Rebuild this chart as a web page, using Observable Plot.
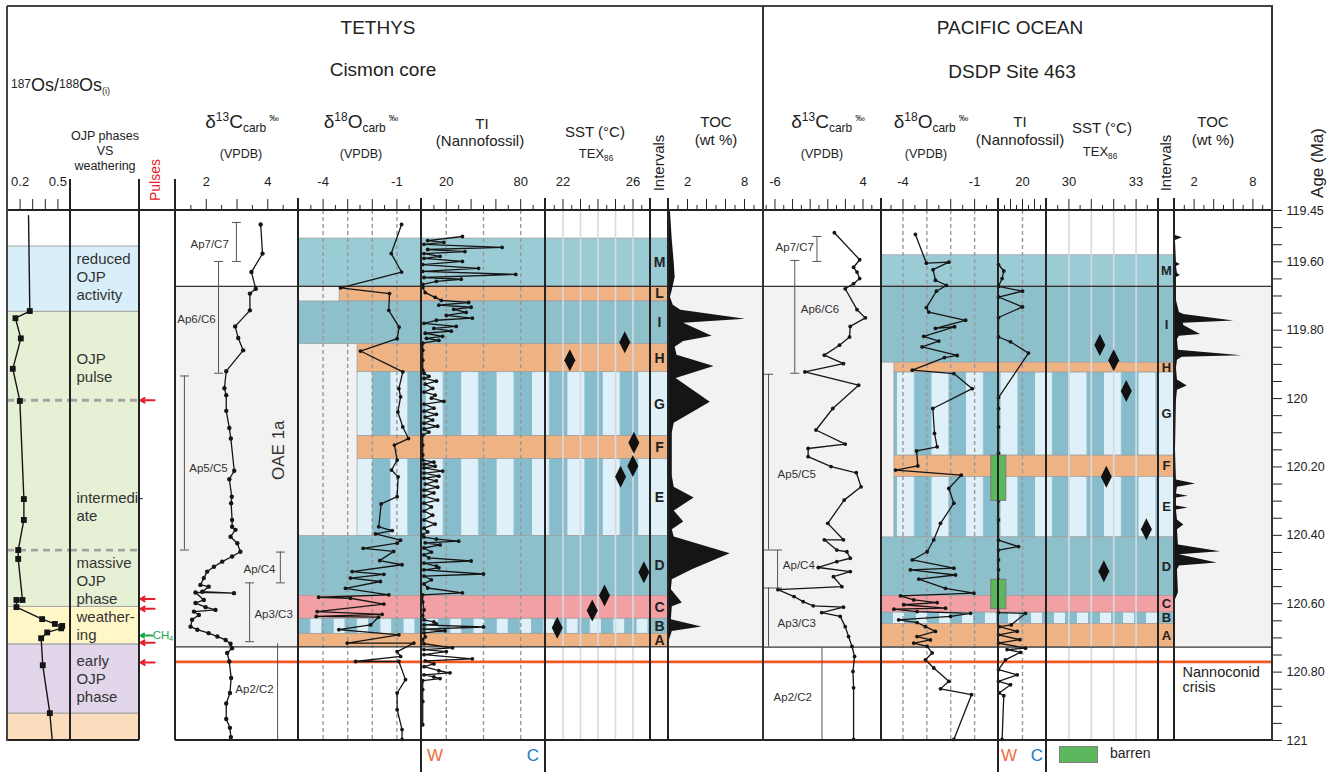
<!DOCTYPE html>
<html><head><meta charset="utf-8">
<script src="https://cdn.jsdelivr.net/npm/d3@7"></script>
<script src="https://cdn.jsdelivr.net/npm/@observablehq/plot@0.6"></script>
<style>
body{margin:0;background:#fff;}
#fig{position:relative;width:1336px;height:774px;font-family:"Liberation Sans",Arial,sans-serif;color:#222;overflow:hidden;background:#fff;}
.lbl{position:absolute;white-space:nowrap;line-height:1.1;}
.ln{position:absolute;background:#222;}
.sup{font-size:0.63em;vertical-align:0.55em;}
.sub{font-size:0.63em;vertical-align:-0.35em;}
.pm{font-size:0.5em;vertical-align:0.7em;margin-left:3px;}
</style></head><body><div id="fig"></div>
<script>
// ---------------- DATA ----------------
const ageDomain = [119.45, 121];
const ageTickLabelValues = [119.45, 119.6, 119.8, 120, 120.2, 120.4, 120.6, 120.8, 121];
const ageTickLabels = ["119.45","119.60","119.80","120","120.20","120.40","120.60","120.80","121"];

// Os isotopes
const osAge = [119.465,119.744,119.765,119.824,119.913,120.007,120.294,120.355,120.443,120.469,120.589,120.589,120.610,120.645,120.659,120.665,120.672,120.684,120.701,120.780,120.920,121.000];
const osValue = [0.267,0.277,0.163,0.206,0.142,0.198,0.230,0.230,0.185,0.185,0.219,0.171,0.171,0.375,0.476,0.534,0.526,0.415,0.367,0.380,0.436,0.455];

// OJP phases
const phaseTop = [119.554, 119.745, 120.608, 120.718, 120.920];
const phaseBottom = [119.745, 120.608, 120.718, 120.920, 121.0];
const phaseKind = ["reduced", "green", "weathering", "early", "late"];
const phaseLabel = ["reduced\nOJP\nactivity", "OJP\npulse", "intermedi-\nate", "massive\nOJP\nphase", "weather-\ning", "early\nOJP\nphase"];
const phaseLabelAge = [119.643, 119.908, 120.314, 120.530, 120.662, 120.817];
const phaseDividerAge = [120.005, 120.443];
const pulseAge = [120.005, 120.586, 120.615, 120.714, 120.772];
const ch4Age = [120.693];

// Intervals
const tethysOAE = [119.672, 120.726];
const pacificOAE = [119.672, 120.727];
const crisisAge = 120.770;
const tethysInterval = ["M","L","I","H","G","F","E","D","C","B","A"];
const tethysTop = [119.532,119.672,119.716,119.841,119.923,120.110,120.177,120.402,120.577,120.644,120.688];
const tethysBottom = [119.672,119.716,119.841,119.923,120.110,120.177,120.402,120.577,120.644,120.688,120.726];
const tethysKind = ["tealLight","orange","teal","orange","stripe","orange","stripe","teal","pink","stripeB","orange"];
const tethysStartO = [-5,-3.33,-5,-2.6,-2.6,-2.6,-2.6,-5,-5,-5,-5];
const pacificInterval = ["M","I","H","G","F","E","D","C","B","A"];
const pacificTop = [119.581,119.672,119.895,119.924,120.167,120.229,120.406,120.577,120.626,120.659];
const pacificBottom = [119.672,119.895,119.924,120.167,120.229,120.406,120.577,120.626,120.659,120.727];
const pacificKind = ["tealLight","teal","orange","stripe","orange","stripe","teal","pink","stripeB","orange"];
const pacificStartO = [-4.9,-4.9,-4.36,-4.36,-4.36,-4.36,-4.9,-4.9,-4.9,-4.9];

// Biozones
const zoneName = ["Ap7/C7","Ap6/C6","Ap5/C5","Ap/C4","Ap3/C3","Ap2/C2"];
const tZoneTop = [119.485,119.599,119.934,120.449,120.539,120.717];
const tZoneBottom = [119.599,119.926,120.443,120.539,120.711,121];
const tZoneX = [2.98,2.40,1.29,4.41,3.41,4.32];
const tZoneCapTop = [true,true,true,true,true,false];
const tZoneCapBottom = [true,true,true,true,true,false];
const tZoneLabelX = [2.11,1.68,2.07,3.73,4.19,3.57];
const tZoneLabelAge = [119.549,119.768,120.203,120.498,120.630,120.849];
const pZoneTop = [119.526,119.596,119.929,120.443,120.554,120.727];
const pZoneBottom = [119.599,119.926,120.443,120.554,120.727,121];
const pZoneX = [-1.23,-3.75,-6.73,-5.70,-6.73,-0.66];
const pZoneCapTop = [true,true,true,true,true,false];
const pZoneCapBottom = [true,true,true,true,false,false];
const pZoneLabelX = [-3.75,-0.89,-3.52,-3.29,-3.52,-3.98];
const pZoneLabelAge = [119.558,119.739,120.221,120.487,120.656,120.875];

// Tethys (Cismon) series
const tC13Age = [119.491,119.576,119.630,119.679,119.693,119.742,119.789,119.823,119.859,119.920,119.970,119.990,120.036,120.086,120.117,120.211,120.236,120.287,120.306,120.355,120.375,120.384,120.404,120.423,120.448,120.462,120.477,120.492,120.506,120.525,120.545,120.550,120.565,120.569,120.567,120.589,120.598,120.610,120.618,120.623,120.633,120.647,120.667,120.676,120.686,120.696,120.706,120.717,120.730,120.744,120.769,120.817,120.861,120.892,120.937,120.963,120.990];
const tC13Value = [3.77,3.83,3.47,3.61,3.42,3.42,2.94,3.04,3.20,2.65,2.59,2.65,2.65,2.75,2.80,2.91,2.75,2.83,2.81,2.84,2.84,2.95,2.79,3.01,3.11,2.84,2.52,2.25,2.03,1.92,1.81,2.08,1.87,2.90,1.65,1.92,1.65,1.98,2.30,1.60,1.76,1.54,1.49,1.71,2.08,2.36,2.63,2.79,2.84,2.68,2.75,2.81,2.77,2.65,2.65,2.77,2.80];
const tO18Age = [119.491,119.576,119.630,119.676,119.693,119.742,119.791,119.825,119.861,119.922,119.971,119.995,120.039,120.083,120.117,120.136,120.180,120.209,120.229,120.287,120.308,120.375,120.386,120.396,120.414,120.423,120.438,120.447,120.474,120.486,120.506,120.514,120.525,120.535,120.555,120.574,120.581,120.584,120.601,120.623,120.631,120.637,120.639,120.662,120.676,120.691,120.715,120.715,120.740,120.754,120.769,120.769,120.822,120.861,120.910,120.968,120.997];
const tO18Value = [-0.81,-1.23,-0.81,-3.29,-1.30,-1.33,-0.91,-0.99,-2.48,-0.76,-0.92,-0.85,-0.96,-0.76,-0.53,-1.10,-0.99,-1.22,-0.95,-0.99,-1.64,-1.74,-1.19,-1.87,-0.85,-0.99,-2.37,-1.13,-1.70,-0.79,-2.82,-1.53,-2.89,-1.67,-3.09,-1.33,-4.18,-2.89,-1.53,-4.24,-1.60,-4.28,-1.74,-2.07,-3.36,-0.92,-3.02,-0.31,-0.99,-0.85,-2.68,-0.92,-0.65,-0.99,-0.99,-0.79,-0.79];
const tTIAge = [119.526,119.538,119.543,119.549,119.558,119.564,119.570,119.576,119.584,119.590,119.599,119.608,119.619,119.628,119.637,119.646,119.651,119.657,119.666,119.675,119.690,119.704,119.713,119.719,119.727,119.733,119.739,119.748,119.757,119.765,119.771,119.780,119.789,119.795,119.803,119.809,119.818,119.824,119.830,119.838,119.859,119.888,119.917,119.926,119.935,119.941,119.949,119.958,119.970,119.981,119.990,119.999,120.008,120.016,120.028,120.037,120.046,120.054,120.063,120.072,120.081,120.089,120.098,120.107,120.136,120.165,120.180,120.186,120.192,120.198,120.203,120.212,120.218,120.227,120.233,120.241,120.250,120.259,120.268,120.276,120.285,120.297,120.306,120.317,120.329,120.341,120.355,120.367,120.379,120.390,120.399,120.405,120.411,120.417,120.422,120.428,120.437,120.449,120.457,120.466,120.475,120.481,120.490,120.495,120.501,120.513,120.519,120.530,120.542,120.554,120.568,120.574,120.595,120.618,120.635,120.647,120.653,120.659,120.662,120.668,120.674,120.679,120.685,120.697,120.705,120.717,120.729,120.734,120.740,120.749,120.761,120.767,120.776,120.784,120.796,120.802,120.808,120.814,120.819,120.825,120.851,120.886,120.954];
const tTIValue = [33,5,18,2,65,5,35,2,15,2,33,1,46,1,76,2,32,12,1,1,3,11,16,38,14,40,26,36,20,41,12,2,28,10,24,3,17,4,14,1,1,1,1,2,6,2,12,3,9,2,11,8,18,2,10,2,12,3,9,2,13,2,6,1,1,1,1,10,2,11,2,17,2,14,2,12,3,13,2,10,2,13,2,8,2,9,2,11,2,5,1,2,12,30,3,15,2,8,2,6,40,2,12,14,2,50,2,8,2,5,33,1,1,2,1,2,10,12,2,50,2,19,2,3,1,2,25,2,20,2,41,3,10,2,14,23,2,10,15,1,1,1,1];
const tSSTAge = [119.835,119.888,120.129,120.197,120.229,120.508,120.576,120.620,120.670];
const tSSTValue = [25.53,22.39,26.05,25.99,25.29,26.62,24.37,23.67,21.67];
const tTOCAge = [119.450,119.538,119.602,119.646,119.684,119.704,119.727,119.742,119.768,119.780,119.818,119.833,119.850,119.873,119.906,119.941,120.011,120.072,120.101,120.227,120.259,120.291,120.329,120.361,120.384,120.405,120.454,120.501,120.530,120.559,120.598,120.609,120.647,120.668,120.681,120.707,121.000];
const tTOCValue = [0.2,0.4,0.6,0.7,0.4,0.2,0.5,1.3,8.1,1.6,4.6,1.6,0.7,0.9,4.8,0.8,4.4,0.6,0.4,0.4,0.6,2.7,0.6,1.6,0.4,0.6,6.5,2.5,0.4,0.3,1.45,0.4,0.3,3.5,0.4,0.1,0.1];

// Pacific (DSDP 463) series
const pC13Age = [119.515,119.594,119.616,119.630,119.649,119.664,119.679,119.740,119.764,119.789,119.820,119.844,119.873,119.898,119.922,119.961,120.029,120.092,120.133,120.146,120.170,120.199,120.217,120.258,120.297,120.365,120.413,120.413,120.443,120.448,120.467,120.477,120.494,120.506,120.521,120.550,120.559,120.579,120.594,120.606,120.610,120.626,120.637,120.667,120.696,120.725,120.754,120.798,120.846,120.997];
const pC13Value = [0.75,3.62,2.93,3.32,3.62,2.93,1.98,3.32,4.27,2.55,2.47,1.33,-0.39,1.78,-2.60,3.50,0.57,-1.34,1.98,-2.23,-2.23,0.37,3.24,3.78,1.86,0.00,1.78,-0.39,1.03,2.17,2.55,1.03,-1.08,2.55,0.64,1.60,-5.66,-3.83,-2.80,-1.65,1.78,-0.69,1.41,1.98,2.36,2.75,3.04,2.86,2.93,2.93];
const pO18Age = [119.520,119.604,119.601,119.623,119.654,119.669,119.686,119.734,119.747,119.771,119.795,119.790,119.818,119.832,119.849,119.874,119.880,119.917,119.927,119.971,120.029,120.102,120.141,120.153,120.197,120.209,120.224,120.263,120.306,120.365,120.413,120.448,120.472,120.496,120.501,120.516,120.528,120.555,120.569,120.577,120.589,120.597,120.603,120.613,120.616,120.623,120.628,120.637,120.647,120.655,120.667,120.681,120.696,120.706,120.715,120.725,120.744,120.764,120.788,120.827,120.849,120.866,120.997];
const pO18Value = [-3.48,-3.02,-2.08,-2.74,-2.64,-2.18,-2.60,-3.02,-2.92,-1.38,-2.64,-1.84,-3.13,-2.50,-3.20,-1.73,-2.26,-3.61,-1.87,-1.10,-2.75,-2.68,-2.57,-3.43,-3.38,-4.31,-1.56,-2.08,-1.87,-2.43,-2.71,-2.99,-3.61,-1.87,-3.69,-1.80,-3.34,-2.22,-1.03,-4.10,-3.55,-2.57,-3.97,-2.22,-4.38,-3.41,-1.17,-2.01,-4.18,-3.41,-3.06,-2.64,-3.41,-2.85,-3.55,-2.99,-2.78,-3.06,-2.71,-2.08,-2.43,-1.13,-1.87];
const pTIAge = [119.608,119.627,119.649,119.672,119.686,119.703,119.732,119.763,119.820,119.834,119.867,119.997,120.029,120.083,120.160,120.299,120.355,120.414,120.433,120.443,120.472,120.501,120.530,120.626,120.628,120.662,120.667,120.681,120.691,120.705,120.715,120.730,120.734,120.742,120.764,120.793,120.808,120.827,120.837,120.861,120.869,120.997];
const pTIValue = [0,4.4,3,0,20,0,20,0,0,10,25,0,0,0,0,0,0,0,16.7,0,0,0,0,0,22.5,10.6,0.6,15.6,0,17.8,0,22.5,7.2,18.3,5.8,0,15.6,0,10,0.6,4.4,3];
const barrenTop = [120.167, 120.530];
const barrenBottom = [120.299, 120.616];
const pSSTAge = [119.843,119.888,119.978,120.229,120.382,120.505];
const pSSTValue = [31.38,32.00,32.56,31.67,33.46,31.56];
const pTOCAge = [119.450,119.523,119.530,119.538,119.602,119.608,119.614,119.634,119.640,119.646,119.713,119.748,119.754,119.773,119.780,119.786,119.813,119.818,119.827,119.859,119.875,119.879,119.888,119.911,119.946,119.963,119.976,120.005,120.151,120.238,120.250,120.259,120.279,120.286,120.291,120.314,120.320,120.326,120.355,120.370,120.384,120.428,120.448,120.457,120.481,120.490,120.501,120.568,120.589,120.734,121.000];
const pTOCValue = [0,0.1,0.8,0.1,0.2,0.6,0.2,0.3,0.6,0.2,0.2,0.5,0.95,6.05,0.9,0.95,2.65,0.5,0.3,0.4,6.9,0.8,0.3,0.2,0.3,1.3,0.3,0.2,0.1,0.2,2.15,0.3,0.2,1.4,0.2,0.2,1.4,0.2,0.3,0.95,0.3,0.4,4.7,0.5,4.35,0.5,0.3,0.4,0.1,0.1,0.1];

// Annotations
const oaeLabel = {text: "OAE 1a", x: 4.35, age: 120.151};
const crisisLabel = {text: "Nannoconid\ncrisis", age: 120.823};

// Axis ticks (values & labels)
const osTicks = {major: [0.2,0.3,0.4,0.5], labels: ["0.2","","","0.5"], minor: []};
const tC13Ticks = {major: [1,2,3,4,5], labels: ["","2","","4",""], minor: [1.5,2.5,3.5,4.5]};
const tO18Ticks = {major: [-5,-4,-3,-2,-1,0], labels: ["","-4","","","-1",""], minor: [-4.5,-3.5,-2.5,-1.5,-0.5]};
const tTITicks = {major: [0,20,40,60,80,100], labels: ["","20","","","80",""], minor: [10,30,50,70,90]};
const tSSTTicks = {major: [21,22,23,24,25,26,27], labels: ["","22","","","","26",""], minor: [21.5,22.5,23.5,24.5,25.5,26.5]};
const tocTicks = {major: [0,2,4,6,8,10], labels: ["","2","","","8",""], minor: [1,3,5,7,9]};
const pC13Ticks = {major: [-6,-4,-2,0,2,4], labels: ["-6","","","","","4"], minor: [-7,-5,-3,-1,1,3,5]};
const pO18Ticks = {major: [-4,-3,-2,-1,0], labels: ["-4","","","-1",""], minor: [-4.5,-3.5,-2.5,-1.5,-0.5]};
const pTITicks = {major: [0,10,20,30,40], labels: ["","","20","",""], minor: [5,15,25,35]};
const pSSTTicks = {major: [29,30,31,32,33,34], labels: ["","30","","","33",""], minor: [29.5,30.5,31.5,32.5,33.5]};

// ---------------- STYLE / HELPERS ----------------
const fig = document.getElementById("fig");
const H = 774, MT = 210, MB = 34;
const FONT = '"Liberation Sans", Arial, sans-serif';
const COL = {teal:"#8ec0cc", tealLight:"#9bcbd5", orange:"#efb283", pink:"#f2a0a3", sLight:"#dff0f8", sDark:"#86bccb",
  gray:"#f2f2f2", crisis:"#f15a24", reduced:"#d8eef9", green:"#e6f0d5", weathering:"#fff7c8", early:"#e2d6ea", late:"#fbdcbc"};
const zip = (a, v) => a.map((d, i) => ({age: d, value: v[i]}));
const defs = d3.select(fig).append("svg").attr("width",0).attr("height",0).style("position","absolute").append("defs");
const made = new Set();
function stripeFill(kind, x0, site) {
  const id = `${kind}-${site}-${x0}`;
  if (!made.has(id)) {
    made.add(id);
    const cfg = kind === "stripe"
      ? (site === "t" ? {o:355, p:35.4, w:17, c1:COL.sLight, c2:COL.sDark} : {o:897, p:34.5, w:17, c1:COL.sLight, c2:COL.sDark})
      : (site === "t" ? {o:298, p:23.3, w:12.5, c1:COL.sDark, c2:COL.sLight} : {o:881, p:23, w:12, c1:COL.sDark, c2:COL.sLight});
    const pat = defs.append("pattern").attr("id", id).attr("patternUnits","userSpaceOnUse")
      .attr("x", cfg.o - x0).attr("y", 0).attr("width", cfg.p).attr("height", 20);
    pat.append("rect").attr("width", cfg.w).attr("height", 20).attr("fill", cfg.c1);
    pat.append("rect").attr("x", cfg.w).attr("width", cfg.p - cfg.w).attr("height", 20).attr("fill", cfg.c2);
  }
  return `url(#${id})`;
}
function kindFill(kind, x0, site, cell) {
  if (kind === "stripe") return cell ? COL.sLight : stripeFill(kind, x0, site);
  if (kind === "stripeB") return cell ? COL.teal : stripeFill(kind, x0, site);
  return COL[kind];
}
function axisMarks(t) {
  const m = new Map(t.major.map((d, i) => [d, t.labels[i]]));
  const out = [Plot.axisX(t.major, {anchor:"top", tickSize:12, tickPadding:13, tickFormat: d => m.get(d) ?? "", label:null, fontSize:13})];
  if (t.minor.length) out.push(Plot.axisX(t.minor, {anchor:"top", tickSize:6, tickFormat: () => "", label:null}));
  return out;
}
function panel(x0, x1, domain, marks, ticks) {
  const opts = {width: x1 - x0, height: H, marginTop: MT, marginBottom: MB, marginLeft: 0, marginRight: 0,
    x: {domain}, y: {domain: ageDomain, reverse: true, axis: null}, color: {type: "identity"},
    style: {background: "none", overflow: "visible", fontFamily: FONT, fontSize: "13px", color: "#222"},
    marks: ticks ? [...marks, ...axisMarks(ticks)] : marks};
  if (!ticks) opts.x.axis = null;
  const svg = Plot.plot(opts);
  svg.style.position = "absolute"; svg.style.left = x0 + "px"; svg.style.top = "0px";
  fig.appendChild(svg);
}
const grayBg = (oae, dom) => Plot.rect([0], {x1: dom[0], x2: dom[1], y1: oae[0], y2: oae[1], fill: COL.gray});
const hRules = (oae) => [Plot.ruleY(oae, {stroke: "#333", strokeWidth: 1.2}), Plot.ruleY([crisisAge], {stroke: COL.crisis, strokeWidth: 2.6})];
const diamond = {draw(c){c.moveTo(0,-11);c.lineTo(5.5,0);c.lineTo(0,11);c.lineTo(-5.5,0);c.closePath();}};
const hcap = {draw(c){c.moveTo(-4.5,0);c.lineTo(4.5,0);}};
const curve = (rows, r = 1.9) => [Plot.line(rows, {x:"value", y:"age", stroke:"#151515", strokeWidth:1.3}), Plot.dot(rows, {x:"value", y:"age", r, fill:"#151515"})];

const tRows = tethysInterval.map((n, i) => ({name:n, top:tethysTop[i], bottom:tethysBottom[i], kind:tethysKind[i], startO:tethysStartO[i]}));
const pRows = pacificInterval.map((n, i) => ({name:n, top:pacificTop[i], bottom:pacificBottom[i], kind:pacificKind[i], startO:pacificStartO[i]}));
const bands = (rows, x0, site, x1v, x2v, opt = {}) => Plot.rect(rows, {x1: opt.start ? "startO" : x1v, x2: x2v, y1:"top", y2:"bottom",
  fill: d => kindFill(d.kind, x0, site, opt.cell), stroke:"#9d9d9d", strokeWidth:0.7});
const zonesT = zoneName.map((n, i) => ({name:n, top:tZoneTop[i], bottom:tZoneBottom[i], x:tZoneX[i], capTop:tZoneCapTop[i], capBottom:tZoneCapBottom[i], labelX:tZoneLabelX[i], labelAge:tZoneLabelAge[i]}));
const zonesP = zoneName.map((n, i) => ({name:n, top:pZoneTop[i], bottom:pZoneBottom[i], x:pZoneX[i], capTop:pZoneCapTop[i], capBottom:pZoneCapBottom[i], labelX:pZoneLabelX[i], labelAge:pZoneLabelAge[i]}));
const zoneMarks = (z) => [
  Plot.ruleX(z, {x:"x", y1:"top", y2:"bottom", stroke:"#555", strokeWidth:1}),
  Plot.dot(z.filter(d => d.capTop), {x:"x", y:"top", symbol:hcap, stroke:"#555", fill:"none", strokeWidth:1}),
  Plot.dot(z.filter(d => d.capBottom), {x:"x", y:"bottom", symbol:hcap, stroke:"#555", fill:"none", strokeWidth:1}),
  Plot.text(z, {x:"labelX", y:"labelAge", text:"name", fontSize:11.5, fill:"#333"})
];

// ---------------- LEFT: Os + phases ----------------
const phaseRows = phaseTop.map((t, i) => ({top:t, bottom:phaseBottom[i], kind:phaseKind[i]}));
const phaseBg = (dom) => [
  Plot.rect(phaseRows, {x1: dom[0], x2: dom[1], y1:"top", y2:"bottom", fill: d => COL[d.kind]}),
  Plot.ruleY(phaseTop.concat(phaseBottom.slice(0, -1)), {stroke:"#a8a8a8", strokeWidth:1}),
  Plot.ruleY(phaseDividerAge, {stroke:"#a3a3a3", strokeWidth:2.8, strokeDasharray:"7,5"})
];
const osRows = zip(osAge, osValue);
panel(7, 70, [0.1, 0.6], [
  ...phaseBg([0.1, 0.6]),
  Plot.line(osRows, {x:"value", y:"age", stroke:"#151515", strokeWidth:1.4}),
  Plot.dot(osRows.slice(1, -1), {x:"value", y:"age", symbol:"square", r:3.3, fill:"#151515"})
], osTicks);
panel(70, 139, [0, 1], [
  ...phaseBg([0, 1]),
  Plot.text(phaseLabel.map((t, i) => ({t, age: phaseLabelAge[i]})), {y:"age", text:"t", frameAnchor:"left", dx:6, textAnchor:"start", lineHeight:1.2, fontSize:15, fill:"#333"})
]);

// ---------------- TETHYS ----------------
panel(175, 298, [1, 5], [
  grayBg(tethysOAE, [1, 5]), ...hRules(tethysOAE), ...zoneMarks(zonesT),
  Plot.text([oaeLabel], {x:"x", y:"age", text:"text", rotate:-90, fontSize:17, fill:"#333"}),
  ...curve(zip(tC13Age, tC13Value), 2.2)
], tC13Ticks);
// pulses column (drawn after so the CH4 label sits on top)
const ch4Rows = ch4Age.map(a => ({age:a}));
panel(139, 175, [0, 1], [
  Plot.arrow(pulseAge.map(a => ({age:a})), {x1:0.42, x2:0.03, y1:"age", y2:"age", stroke:"#e5202a", strokeWidth:2, headLength:7}),
  Plot.arrow(ch4Rows, {x1:0.36, x2:0.03, y1:"age", y2:"age", stroke:"#1aa64a", strokeWidth:2, headLength:7}),
  Plot.text(ch4Rows, {x:0.37, y:"age", text: () => "CH", textAnchor:"start", fill:"#1aa64a", fontSize:11.5}),
  Plot.text(ch4Rows, {x:0.37, y:"age", text: () => "4", textAnchor:"start", dx:16, dy:3, fill:"#1aa64a", fontSize:8})
]);
panel(298, 421, [-5, 0], [
  grayBg(tethysOAE, [-5, 0]), bands(tRows, 298, "t", null, 0, {start:true}),
  Plot.ruleX([-4, -3, -2, -1], {stroke:"#999", strokeWidth:1.4, strokeDasharray:"4,3"}),
  ...hRules(tethysOAE), ...curve(zip(tO18Age, tO18Value))
], tO18Ticks);
panel(421, 545, [0, 100], [
  grayBg(tethysOAE, [0, 100]), bands(tRows, 421, "t", 0, 100),
  Plot.ruleX([20, 50, 80], {stroke:"#999", strokeWidth:1.4, strokeDasharray:"4,3"}),
  ...hRules(tethysOAE), ...curve(zip(tTIAge, tTIValue))
], tTITicks);
panel(545, 650, [21, 27], [
  grayBg(tethysOAE, [21, 27]), bands(tRows, 545, "t", 21, 27),
  Plot.ruleX([22, 23, 24, 25, 26], {stroke:"#d5dae1", strokeWidth:1.6}),
  ...hRules(tethysOAE),
  Plot.dot(zip(tSSTAge, tSSTValue), {x:"value", y:"age", symbol:diamond, fill:"#111", stroke:"none"})
], tSSTTicks);
panel(650, 668, [0, 1], [
  bands(tRows, 650, "t", 0, 1, {cell:true}), ...hRules(tethysOAE),
  Plot.text(tRows, {x:0.5, y: d => (d.top + d.bottom) / 2, text:"name", fontWeight:"bold", fontSize:14, fill:"#222"})
]);
panel(668, 763, [0, 10], [
  grayBg(tethysOAE, [0, 10]), ...hRules(tethysOAE),
  Plot.areaX(zip(tTOCAge, tTOCValue), {x1:0, x2:"value", y:"age", fill:"#151515"})
], tocTicks);

// ---------------- PACIFIC ----------------
panel(763, 881, [-7.3, 6.1], [
  grayBg(pacificOAE, [-7.3, 6.1]), ...hRules(pacificOAE), ...zoneMarks(zonesP),
  ...curve(zip(pC13Age, pC13Value))
], pC13Ticks);
panel(881, 998, [-4.9, 0], [
  grayBg(pacificOAE, [-4.9, 0]), bands(pRows, 881, "p", null, 0, {start:true}),
  Plot.ruleX([-4, -3, -2, -1], {stroke:"#999", strokeWidth:1.4, strokeDasharray:"4,3"}),
  ...hRules(pacificOAE), ...curve(zip(pO18Age, pO18Value))
], pO18Ticks);
panel(998, 1046, [0, 40], [
  grayBg(pacificOAE, [0, 40]), bands(pRows, 998, "p", 0, 40),
  Plot.ruleX([20], {stroke:"#999", strokeWidth:1.4, strokeDasharray:"4,3"}),
  ...hRules(pacificOAE), ...curve(zip(pTIAge, pTIValue)),
  Plot.rect(barrenTop.map((t, i) => ({top:t, bottom:barrenBottom[i]})), {x1:-6, x2:6.5, y1:"top", y2:"bottom", fill:"#5cb85c", stroke:"#7a7a7a", strokeWidth:1})
], pTITicks);
panel(1046, 1158, [29, 34], [
  grayBg(pacificOAE, [29, 34]), bands(pRows, 1046, "p", 29, 34),
  Plot.ruleX([30, 31, 32, 33], {stroke:"#d5dae1", strokeWidth:1.6}),
  ...hRules(pacificOAE),
  Plot.dot(zip(pSSTAge, pSSTValue), {x:"value", y:"age", symbol:diamond, fill:"#111", stroke:"none"})
], pSSTTicks);
panel(1158, 1174, [0, 1], [
  bands(pRows, 1158, "p", 0, 1, {cell:true}), ...hRules(pacificOAE),
  Plot.text(pRows, {x:0.5, y: d => (d.top + d.bottom) / 2, text:"name", fontWeight:"bold", fontSize:13, fill:"#222"})
]);
panel(1174, 1272, [0, 10], [
  grayBg(pacificOAE, [0, 10]), ...hRules(pacificOAE),
  Plot.areaX(zip(pTOCAge, pTOCValue), {x1:0, x2:"value", y:"age", fill:"#151515"}),
  Plot.text([crisisLabel], {y:"age", text:"text", frameAnchor:"left", dx:8, textAnchor:"start", lineHeight:1.0, fontSize:14.5, fill:"#222"})
], tocTicks);

// Age axis
{
  const ageTicks = d3.range(32).map(i => +(119.45 + i * 0.05).toFixed(2));
  const lm = new Map(ageTickLabelValues.map((v, i) => [v, ageTickLabels[i]]));
  const svg = Plot.plot({width: 74, height: H, marginTop: MT, marginBottom: MB, marginLeft: 10, marginRight: 64,
    y: {domain: ageDomain, reverse: true}, style: {background:"none", overflow:"visible", fontFamily: FONT, fontSize:"12.5px", color:"#222"},
    marks: [Plot.axisY(ageTicks, {anchor:"right", tickSize:9, tickPadding:5, tickFormat: d => lm.get(d) ?? "", label:null})]});
  svg.style.position = "absolute"; svg.style.left = "1262px"; svg.style.top = "0px";
  fig.appendChild(svg);
}

// ---------------- FRAME LINES ----------------
function vline(x, y0, y1, w = 1.2, c = "#222") { const d = document.createElement("div"); d.className = "ln"; Object.assign(d.style, {left:(x - w/2)+"px", top:y0+"px", width:w+"px", height:(y1-y0)+"px", background:c}); fig.appendChild(d); }
function hline(x0, x1, y, w = 1.2, c = "#222") { const d = document.createElement("div"); d.className = "ln"; Object.assign(d.style, {left:x0+"px", top:(y - w/2)+"px", width:(x1-x0)+"px", height:w+"px", background:c}); fig.appendChild(d); }
hline(7, 1273, 6, 1.4, "#444"); hline(7, 1273, 210, 1.3); hline(7, 139, 740, 1.3); hline(175, 1273, 740, 1.3);
vline(7, 6, 741, 1.4, "#444"); vline(1272, 6, 741, 1.4, "#333"); vline(763, 6, 741, 1.4, "#333");
[70, 139, 175].forEach(x => vline(x, 179, 740, 1.1));
[298, 650, 881, 1158].forEach(x => vline(x, 198, 740, 1.2));
[668, 1174].forEach(x => vline(x, 198, 740, 1.4));
[421, 998].forEach(x => vline(x, 198, 772, 2));
[545, 1046].forEach(x => vline(x, 198, 772, 1.2));

// ---------------- TEXT ----------------
function label(html, x, y, o = {}) {
  const d = document.createElement("div"); d.className = "lbl"; d.innerHTML = html;
  d.style.left = x + "px"; d.style.top = y + "px"; d.style.fontSize = (o.size || 15) + "px";
  if (o.color) d.style.color = o.color;
  if (o.lh) d.style.lineHeight = o.lh + "px";
  d.style.textAlign = "center";
  d.style.transform = `translate(${o.anchor === "start" ? "0" : "-50%"},-50%)` + (o.rotate ? ` rotate(${o.rotate}deg)` : "");
  fig.appendChild(d);
}
const dC = `δ<span class="sup">13</span>C<span class="sub">carb</span><span class="pm">‰</span>`;
const dO = `δ<span class="sup">18</span>O<span class="sub">carb</span><span class="pm">‰</span>`;
label("TETHYS", 378, 28, {size:19}); label("Cismon core", 383, 70, {size:19});
label("PACIFIC OCEAN", 1010, 28, {size:19}); label("DSDP Site 463", 1012, 72, {size:19});
label(`<span style="font-size:12px;vertical-align:3px">187</span>Os/<span style="font-size:12px;vertical-align:3px">188</span>Os<span style="font-size:9px;vertical-align:-3px">(i)</span>`, 11, 86, {size:18, anchor:"start"});
label("OJP phases<br>VS<br>weathering", 105, 151, {size:12.5, lh:15});
label("Pulses", 156, 180, {size:14, color:"#e5202a", rotate:-90});
label(dC, 242, 123, {size:19}); label("(VPDB)", 241, 155, {size:12.5});
label(dO, 361, 123, {size:19}); label("(VPDB)", 361, 155, {size:12.5});
label("TI", 482, 124, {size:15}); label("(Nannofossil)", 480, 141, {size:15});
label("SST (°C)", 595, 132, {size:15}); label(`TEX<span class="sub">86</span>`, 596, 155, {size:13});
label("Intervals", 659, 163, {size:15, rotate:-90});
label("TOC", 716, 122, {size:15}); label("(wt %)", 716, 140, {size:15});
label(dC, 828, 123, {size:19}); label("(VPDB)", 822, 155, {size:12.5});
label(dO, 931, 123, {size:19}); label("(VPDB)", 926, 155, {size:12.5});
label("TI", 1020, 122, {size:15}); label("(Nannofossil)", 1020, 140, {size:15});
label("SST (°C)", 1102, 128, {size:15}); label(`TEX<span class="sub">86</span>`, 1100, 153, {size:13});
label("Intervals", 1166, 163, {size:15, rotate:-90});
label("TOC", 1213, 122, {size:15}); label("(wt %)", 1213, 140, {size:15});
label("Age (Ma)", 1318, 163, {size:17, rotate:-90});
label("W", 435, 756, {size:17, color:"#f26a3a"}); label("C", 533, 756, {size:17, color:"#1d77c2"});
label("W", 1009, 756, {size:17, color:"#f26a3a"}); label("C", 1037, 756, {size:17, color:"#1d77c2"});
{ const b = document.createElement("div"); Object.assign(b.style, {position:"absolute", left:"1059px", top:"746px", width:"37px", height:"15px", background:"#5cb85c", border:"1px solid #808080"}); fig.appendChild(b); }
label("barren", 1110, 754, {size:14, anchor:"start"});
</script></body></html>
